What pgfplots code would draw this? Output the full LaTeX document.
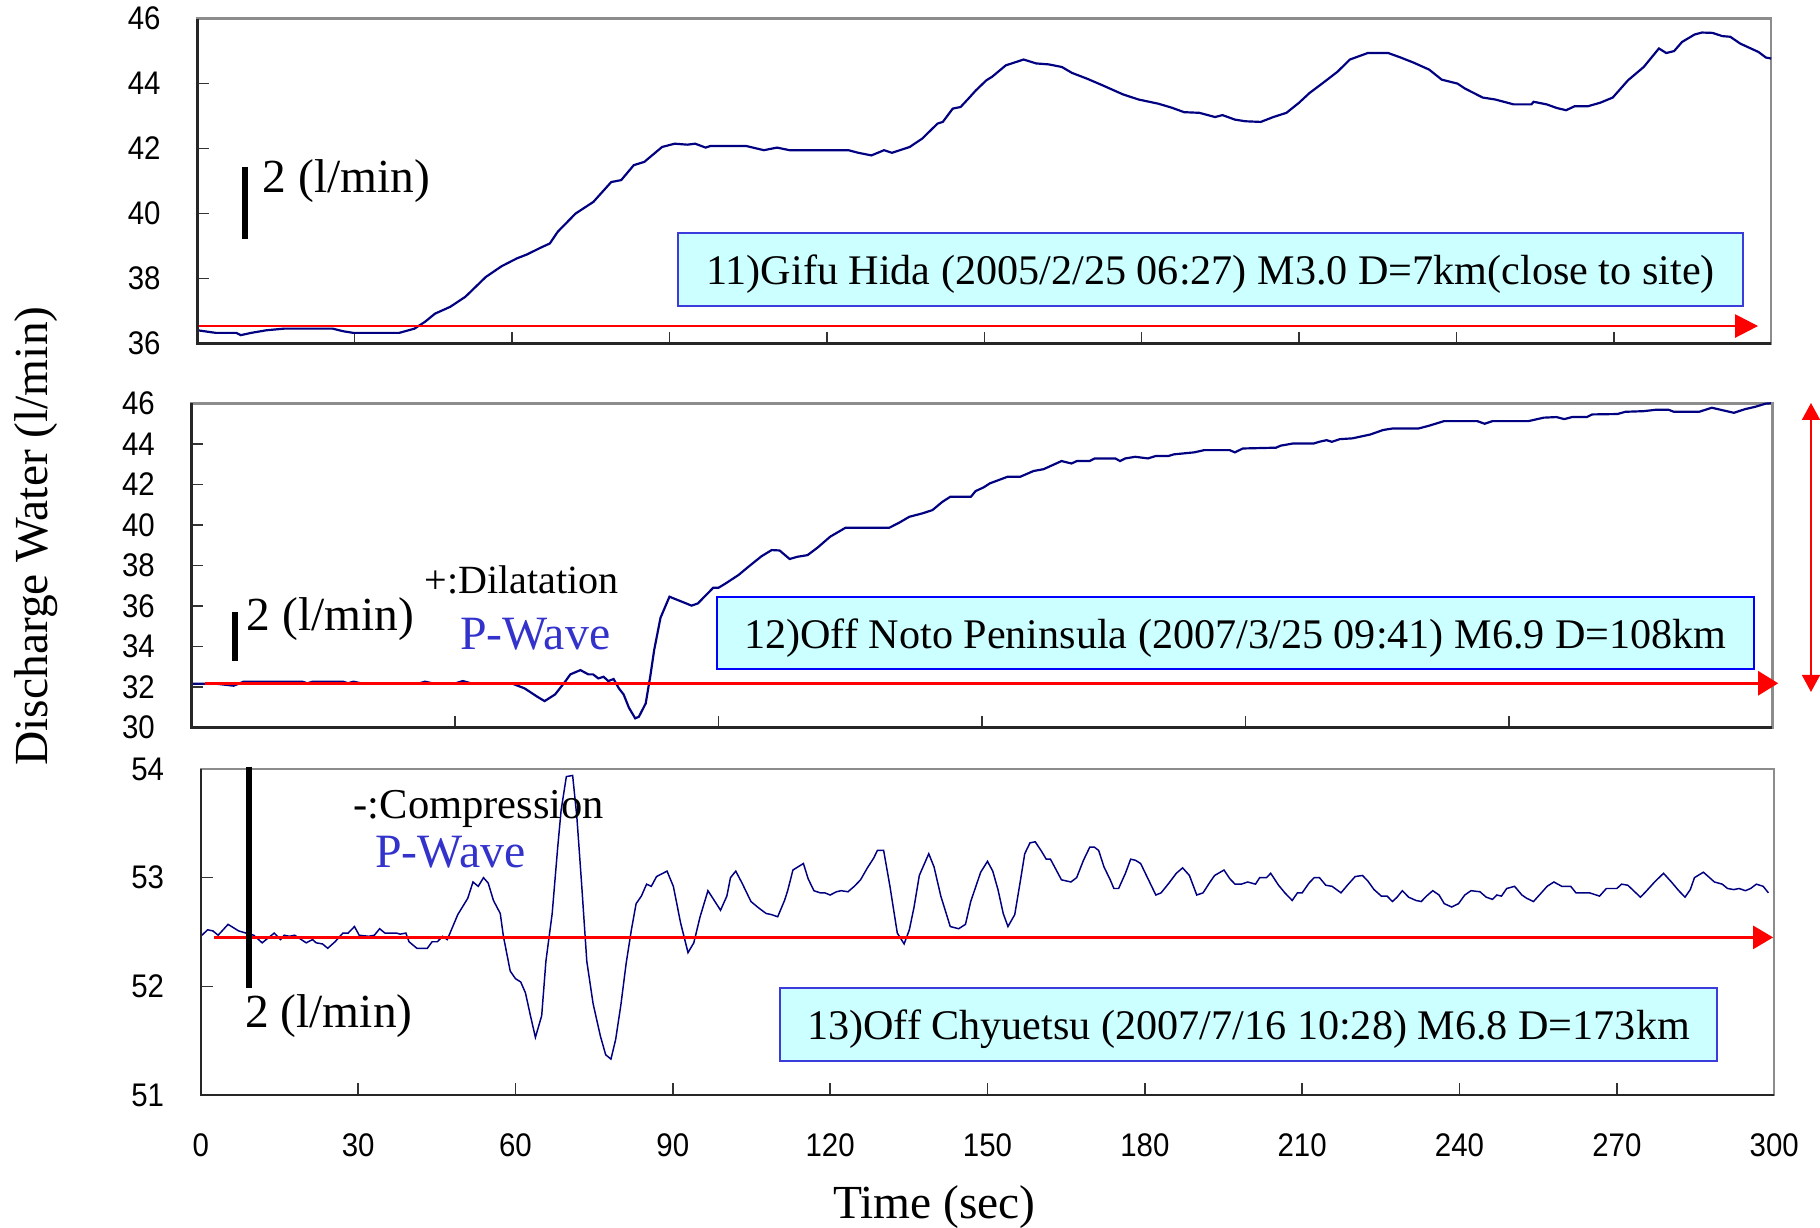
\documentclass[border=0pt]{standalone}
\usepackage{fontspec}
\setmainfont{Liberation Serif}
\newfontfamily\ticksans[FakeStretch=0.9]{Liberation Sans}
\usepackage{pgfplots}
\usepackage{pgfplotstable}
\pgfplotsset{compat=1.18}
\usetikzlibrary{arrows.meta}

\definecolor{navy}{RGB}{0,0,128}
\definecolor{redln}{RGB}{255,0,0}
\definecolor{boxfill}{RGB}{204,255,255}
\definecolor{boxedge}{RGB}{60,60,220}
\definecolor{pwave}{RGB}{51,51,204}
\definecolor{framegray}{RGB}{140,140,140}
\newcommand{\fs}[1]{\fontsize{#1}{#1}\selectfont}

% 11) Gifu Hida
\pgfplotstableread{
t v
0 36.41
3.5 36.33
7.4 36.33
8.3 36.26
10.3 36.33
13.2 36.41
16.6 36.46
25.8 36.46
27.8 36.38
29.7 36.33
38.5 36.33
41.4 36.46
43.4 36.67
45.3 36.92
48.2 37.13
51.1 37.44
55.0 38.05
58.0 38.38
60.9 38.62
62.8 38.74
65.7 38.97
67.2 39.08
68.7 39.44
72.1 40.00
75.5 40.36
78.9 40.97
80.8 41.03
83.2 41.49
85.2 41.59
88.6 42.05
91.0 42.15
93.4 42.12
94.9 42.15
96.9 42.03
97.8 42.08
104.6 42.08
108.0 41.95
110.5 42.03
112.9 41.95
124.1 41.95
126.0 41.87
128.5 41.79
130.9 41.95
132.4 41.87
134.3 41.97
135.8 42.05
138.2 42.31
141.1 42.77
142.1 42.82
144.0 43.23
145.5 43.28
147.0 43.54
148.4 43.79
150.4 44.10
151.5 44.21
154.1 44.56
157.5 44.74
159.9 44.62
162.3 44.59
164.8 44.51
166.7 44.33
169.6 44.15
172.5 43.95
176.4 43.67
179.4 43.51
183.2 43.38
185.7 43.26
188.1 43.12
191.0 43.10
194.0 42.97
195.4 43.03
197.8 42.89
199.8 42.84
202.7 42.82
205.1 42.97
207.6 43.10
210.0 43.41
212.0 43.71
214.4 44.00
217.3 44.36
219.7 44.74
223.1 44.94
227.0 44.94
229.4 44.80
231.9 44.64
234.8 44.43
237.2 44.12
240.2 44.00
241.6 43.85
245.0 43.57
247.4 43.51
250.9 43.36
254.3 43.36
254.7 43.44
257.2 43.36
259.1 43.25
260.9 43.18
262.5 43.30
265.0 43.30
267.4 43.41
269.8 43.57
272.7 44.10
275.7 44.51
278.6 45.08
280.0 44.94
281.5 45.00
283.0 45.28
285.4 45.51
286.8 45.57
288.8 45.56
290.7 45.46
292.2 45.44
294.1 45.23
297.6 44.97
299.0 44.80
300.0 44.77
}\gifu

% 12) Off Noto Peninsula
\pgfplotstableread{
t v
0 32.17
4.6 32.17
8.0 32.07
9.9 32.27
21.0 32.27
22.0 32.19
23.0 32.27
28.8 32.27
29.7 32.19
30.7 32.27
32.2 32.19
43.3 32.19
44.3 32.27
45.7 32.19
50.1 32.19
51.5 32.30
53.0 32.19
60.7 32.19
63.2 31.94
65.6 31.53
67.0 31.31
69.0 31.64
70.9 32.27
71.9 32.63
73.8 32.84
75.3 32.63
76.2 32.63
77.2 32.43
78.2 32.51
79.1 32.30
80.1 32.40
81.1 31.94
82.0 31.64
83.0 30.99
84.2 30.46
84.9 30.54
86.2 31.20
87.1 32.60
87.8 33.83
89.0 35.42
90.7 36.46
92.7 36.25
94.9 36.02
96.1 36.13
99.0 36.90
100.0 36.90
101.4 37.12
103.8 37.53
105.7 37.94
108.2 38.46
110.1 38.76
111.6 38.74
113.5 38.32
115.0 38.43
116.9 38.51
118.8 38.88
121.2 39.42
124.1 39.86
132.4 39.86
134.3 40.11
136.2 40.40
138.7 40.57
140.6 40.73
142.5 41.14
144.0 41.39
147.9 41.39
148.8 41.67
150.3 41.85
151.5 42.05
154.9 42.38
157.3 42.38
159.8 42.66
161.7 42.75
165.1 43.15
167.0 43.03
168.0 43.15
170.4 43.15
171.4 43.28
175.3 43.28
176.2 43.15
177.2 43.28
179.1 43.36
181.5 43.28
183.0 43.40
185.4 43.40
186.4 43.48
190.3 43.58
192.2 43.69
197.0 43.69
198.0 43.58
199.5 43.77
205.8 43.81
206.7 43.91
209.1 44.02
213.0 44.02
214.0 44.10
215.4 44.18
216.4 44.10
217.9 44.23
220.3 44.27
223.7 44.46
226.1 44.68
228.0 44.76
232.9 44.76
234.8 44.89
237.7 45.12
244.0 45.12
245.4 44.99
246.9 45.12
253.7 45.12
256.6 45.29
259.0 45.32
260.5 45.22
262.0 45.32
264.8 45.32
265.8 45.45
270.6 45.47
272.1 45.58
275.5 45.61
277.9 45.68
280.3 45.68
281.3 45.58
286.1 45.58
288.5 45.78
291.0 45.63
292.7 45.53
294.8 45.71
296.8 45.83
298.7 45.98
299.7 46.00
}\noto

% 13) Off Chyuetsu
\pgfplotstableread{
t v
0 52.46
1.3 52.52
2.3 52.51
3.3 52.47
5.2 52.57
7.2 52.51
8.6 52.49
10.1 52.47
11.7 52.40
14.0 52.49
15.2 52.43
15.9 52.47
16.9 52.46
17.9 52.47
20.1 52.40
21.3 52.43
22.0 52.40
23.2 52.39
24.2 52.35
25.6 52.41
27.1 52.49
28.1 52.49
29.3 52.55
30.2 52.47
32.0 52.46
33.1 52.47
34.1 52.53
35.1 52.49
37.3 52.49
38.0 52.48
39.1 52.49
39.7 52.41
41.2 52.35
43.2 52.35
44.1 52.41
45.1 52.41
46.1 52.46
47.0 52.43
49.0 52.66
50.9 52.81
51.9 52.96
52.9 52.92
53.9 53.00
54.8 52.95
55.8 52.79
57.1 52.67
57.7 52.46
59.0 52.14
60.0 52.07
61.0 52.04
61.9 51.94
62.9 51.72
63.8 51.53
65.0 51.73
65.8 52.23
67.0 52.67
68.0 53.25
68.7 53.62
69.7 53.93
70.9 53.94
71.7 53.56
72.6 52.95
73.6 52.23
74.8 51.84
76.2 51.54
77.2 51.37
78.2 51.33
79.1 51.51
80.1 51.83
81.1 52.21
82.1 52.52
83.0 52.76
84.0 52.83
85.0 52.94
85.9 52.92
86.9 53.01
88.9 53.06
90.1 52.92
91.5 52.58
92.9 52.31
94.0 52.40
95.2 52.64
96.7 52.88
97.9 52.79
99.1 52.70
100.3 52.83
101.0 53.00
102.0 53.06
103.2 52.95
104.9 52.78
106.4 52.72
107.8 52.67
108.8 52.66
110.0 52.64
111.3 52.79
111.9 52.88
112.9 53.07
114.9 53.13
115.8 52.99
116.9 52.88
118.1 52.86
119.0 52.86
120.0 52.84
121.2 52.87
122.1 52.88
123.4 52.87
124.6 52.92
125.8 52.98
127.1 53.09
128.3 53.18
129.0 53.25
130.2 53.25
131.4 52.92
132.8 52.49
134.1 52.39
135.1 52.52
136.0 52.73
137.0 53.02
138.8 53.22
139.8 53.10
141.1 52.83
142.9 52.55
144.5 52.53
145.8 52.57
146.8 52.78
148.7 53.05
150.0 53.15
151.0 53.06
152.0 52.89
153.0 52.67
153.9 52.55
155.2 52.66
156.2 52.95
157.1 53.22
158.1 53.32
159.1 53.33
160.2 53.25
161.2 53.17
162.0 53.17
163.0 53.08
164.1 52.98
165.9 52.96
167.0 53.00
168.3 53.16
169.5 53.28
170.4 53.28
171.2 53.25
172.2 53.10
173.4 52.98
174.1 52.90
175.0 52.90
176.3 53.04
177.3 53.17
178.2 53.16
179.2 53.13
180.7 52.98
182.1 52.84
183.1 52.86
184.6 52.95
186.0 53.04
187.2 53.09
188.5 53.02
189.9 52.84
191.1 52.86
192.3 52.95
193.3 53.02
195.1 53.07
196.2 52.99
197.2 52.94
198.4 52.94
199.6 52.96
201.1 52.94
201.9 53.00
203.2 53.00
204.0 53.04
205.5 52.93
206.7 52.86
208.1 52.79
209.1 52.86
210.0 52.86
211.3 52.95
212.3 53.00
213.3 53.00
214.5 52.93
215.7 52.92
217.4 52.86
218.8 52.94
220.1 53.01
221.5 53.02
222.5 52.97
223.7 52.89
225.1 52.83
226.2 52.83
227.2 52.78
228.1 52.82
229.1 52.88
230.3 52.82
231.7 52.79
232.7 52.78
233.7 52.83
234.9 52.88
236.1 52.84
237.1 52.76
238.5 52.73
239.8 52.76
241.0 52.84
242.2 52.88
243.9 52.87
245.1 52.82
246.3 52.80
247.1 52.84
248.0 52.83
249.0 52.90
250.5 52.92
251.9 52.84
252.8 52.81
254.1 52.78
255.6 52.86
256.7 52.92
258.0 52.96
259.5 52.92
260.6 52.92
261.2 52.92
262.2 52.86
264.8 52.86
266.7 52.83
268.0 52.90
270.0 52.90
270.9 52.94
272.1 52.93
273.4 52.87
274.5 52.82
275.5 52.87
277.2 52.96
278.9 53.04
280.4 52.96
281.8 52.88
283.0 52.82
284.0 52.89
284.8 53.00
286.5 53.05
288.6 52.96
290.1 52.94
291.1 52.90
292.3 52.89
293.3 52.90
294.5 52.88
295.5 52.90
296.6 52.94
297.9 52.92
298.9 52.86
}\chyuetsu

\pgfplotsset{
  panel/.style={
    scale only axis, anchor=south west, clip=false,
    xmin=0, xmax=300, tick pos=left, tick align=inside,
    major tick length=0.117cm,
    tick style={black!80, line width=0.4pt},
    axis line style={framegray, line width=0.7pt},
    /pgf/number format/assume math mode=true,
    yticklabel style={inner sep=0pt, xshift=-0.36cm, font=\ticksans\fs{9.3}},
    xticklabel style={inner sep=0pt, yshift=-0.385cm, font=\ticksans\fs{9.3}},
  },
}
\tikzset{darkaxes/.style={black!85, line width=0.7pt}}

\begin{document}
\begin{tikzpicture}
\useasboundingbox (0,0) rectangle (18.2,12.28);

% ---- top panel
\begin{axis}[panel, at={(1.973cm,8.844cm)}, width=15.739cm, height=3.25cm,
  ymin=36, ymax=46, ytick={36,38,...,46}, xtick={0,30,...,300}, xticklabels={}]
  \addplot[navy, line width=0.62pt] table[x=t, y=v] {\gifu};
  \draw[redln, line width=0.75pt, -{Triangle[length=0.23cm, width=0.23cm]}]
    (axis cs:0,36.54) -- (axis cs:297.5,36.54);
  \draw[darkaxes] (rel axis cs:0,1) -- (rel axis cs:0,0) -- (rel axis cs:1,0);
\end{axis}

% ---- middle panel
\begin{axis}[panel, at={(1.915cm,5.003cm)}, width=15.809cm, height=3.244cm,
  ymin=30, ymax=46, ytick={30,32,...,46}, xtick={0,50,...,300}, xticklabels={}]
  \addplot[navy, line width=0.62pt] table[x=t, y=v] {\noto};
  \draw[redln, line width=0.75pt, -{Triangle[length=0.2cm, width=0.24cm]}]
    (axis cs:2.6,32.19) -- (axis cs:301.1,32.19);
  \draw[darkaxes] (rel axis cs:0,1) -- (rel axis cs:0,0) -- (rel axis cs:1,0);
\end{axis}

% ---- bottom panel
\begin{axis}[panel, at={(2.008cm,1.33cm)}, width=15.734cm, height=3.26cm,
  ymin=51, ymax=54, ytick={51,52,53,54}, xtick={0,30,...,300}]
  \addplot[navy, line width=0.42pt] table[x=t, y=v] {\chyuetsu};
  \draw[redln, line width=0.75pt, -{Triangle[length=0.2cm, width=0.23cm]}]
    (axis cs:2.6,52.45) -- (axis cs:299.8,52.45);
  \draw[darkaxes] (rel axis cs:0,1) -- (rel axis cs:0,0) -- (rel axis cs:1,0);
\end{axis}

% scale bars and notes
\draw[black, line width=0.06cm] (2.45,10.61) -- (2.45,9.89);
\node[anchor=base west, inner sep=0pt, font=\fs{13.5}] at (2.62,10.35) {2 (l/min)};
\draw[black, line width=0.06cm] (2.35,6.16) -- (2.35,5.67);
\node[anchor=base west, inner sep=0pt, font=\fs{13.5}] at (2.46,5.97) {2 (l/min)};
\node[anchor=base west, inner sep=0pt, font=\fs{11.4}] at (4.24,6.34) {+:Dilatation};
\node[anchor=base west, inner sep=0pt, font=\fs{13.6}, text=pwave] at (4.595,5.78) {P-Wave};
\draw[black, line width=0.06cm] (2.49,4.613) -- (2.49,2.397);
\node[anchor=base west, inner sep=0pt, font=\fs{13.5}] at (2.445,2.0) {2 (l/min)};
\node[anchor=base west, inner sep=0pt, font=\fs{12.1}] at (3.53,4.097) {-:Compression};
\node[anchor=base west, inner sep=0pt, font=\fs{13.6}, text=pwave] at (3.746,3.607) {P-Wave};

% event boxes
\draw[boxedge, fill=boxfill, line width=0.6pt] (6.78,9.95) rectangle (17.43,9.22);
\node[anchor=base, inner sep=0pt, font=\fs{12}] at (12.105,9.43)
  {11)Gifu Hida (2005/2/25 06:27) M3.0 D=7km(close to site)};
\draw[blue, fill=boxfill, line width=0.6pt] (7.17,6.31) rectangle (17.54,5.59);
\node[anchor=base, inner sep=0pt, font=\fs{12}] at (12.355,5.797)
  {12)Off Noto Peninsula (2007/3/25 09:41) M6.9 D=108km};
\draw[boxedge, fill=boxfill, line width=0.6pt] (7.80,2.40) rectangle (17.17,1.67);
\node[anchor=base, inner sep=0pt, font=\fs{12}] at (12.485,1.88)
  {13)Off Chyuetsu (2007/7/16 10:28) M6.8 D=173km};

% range arrow at right edge
\draw[redln, line width=0.45pt, {Triangle[length=0.17cm, width=0.18cm]}-{Triangle[length=0.17cm, width=0.18cm]}]
  (18.11,8.25) -- (18.11,5.36);

% axis titles
\node[rotate=90, anchor=base, inner sep=0pt, font=\fs{13.5}] at (0.47,6.92) {Discharge Water (l/min)};
\node[anchor=base, inner sep=0pt, font=\fs{13.5}] at (9.345,0.095) {Time (sec)};
\end{tikzpicture}
\end{document}
